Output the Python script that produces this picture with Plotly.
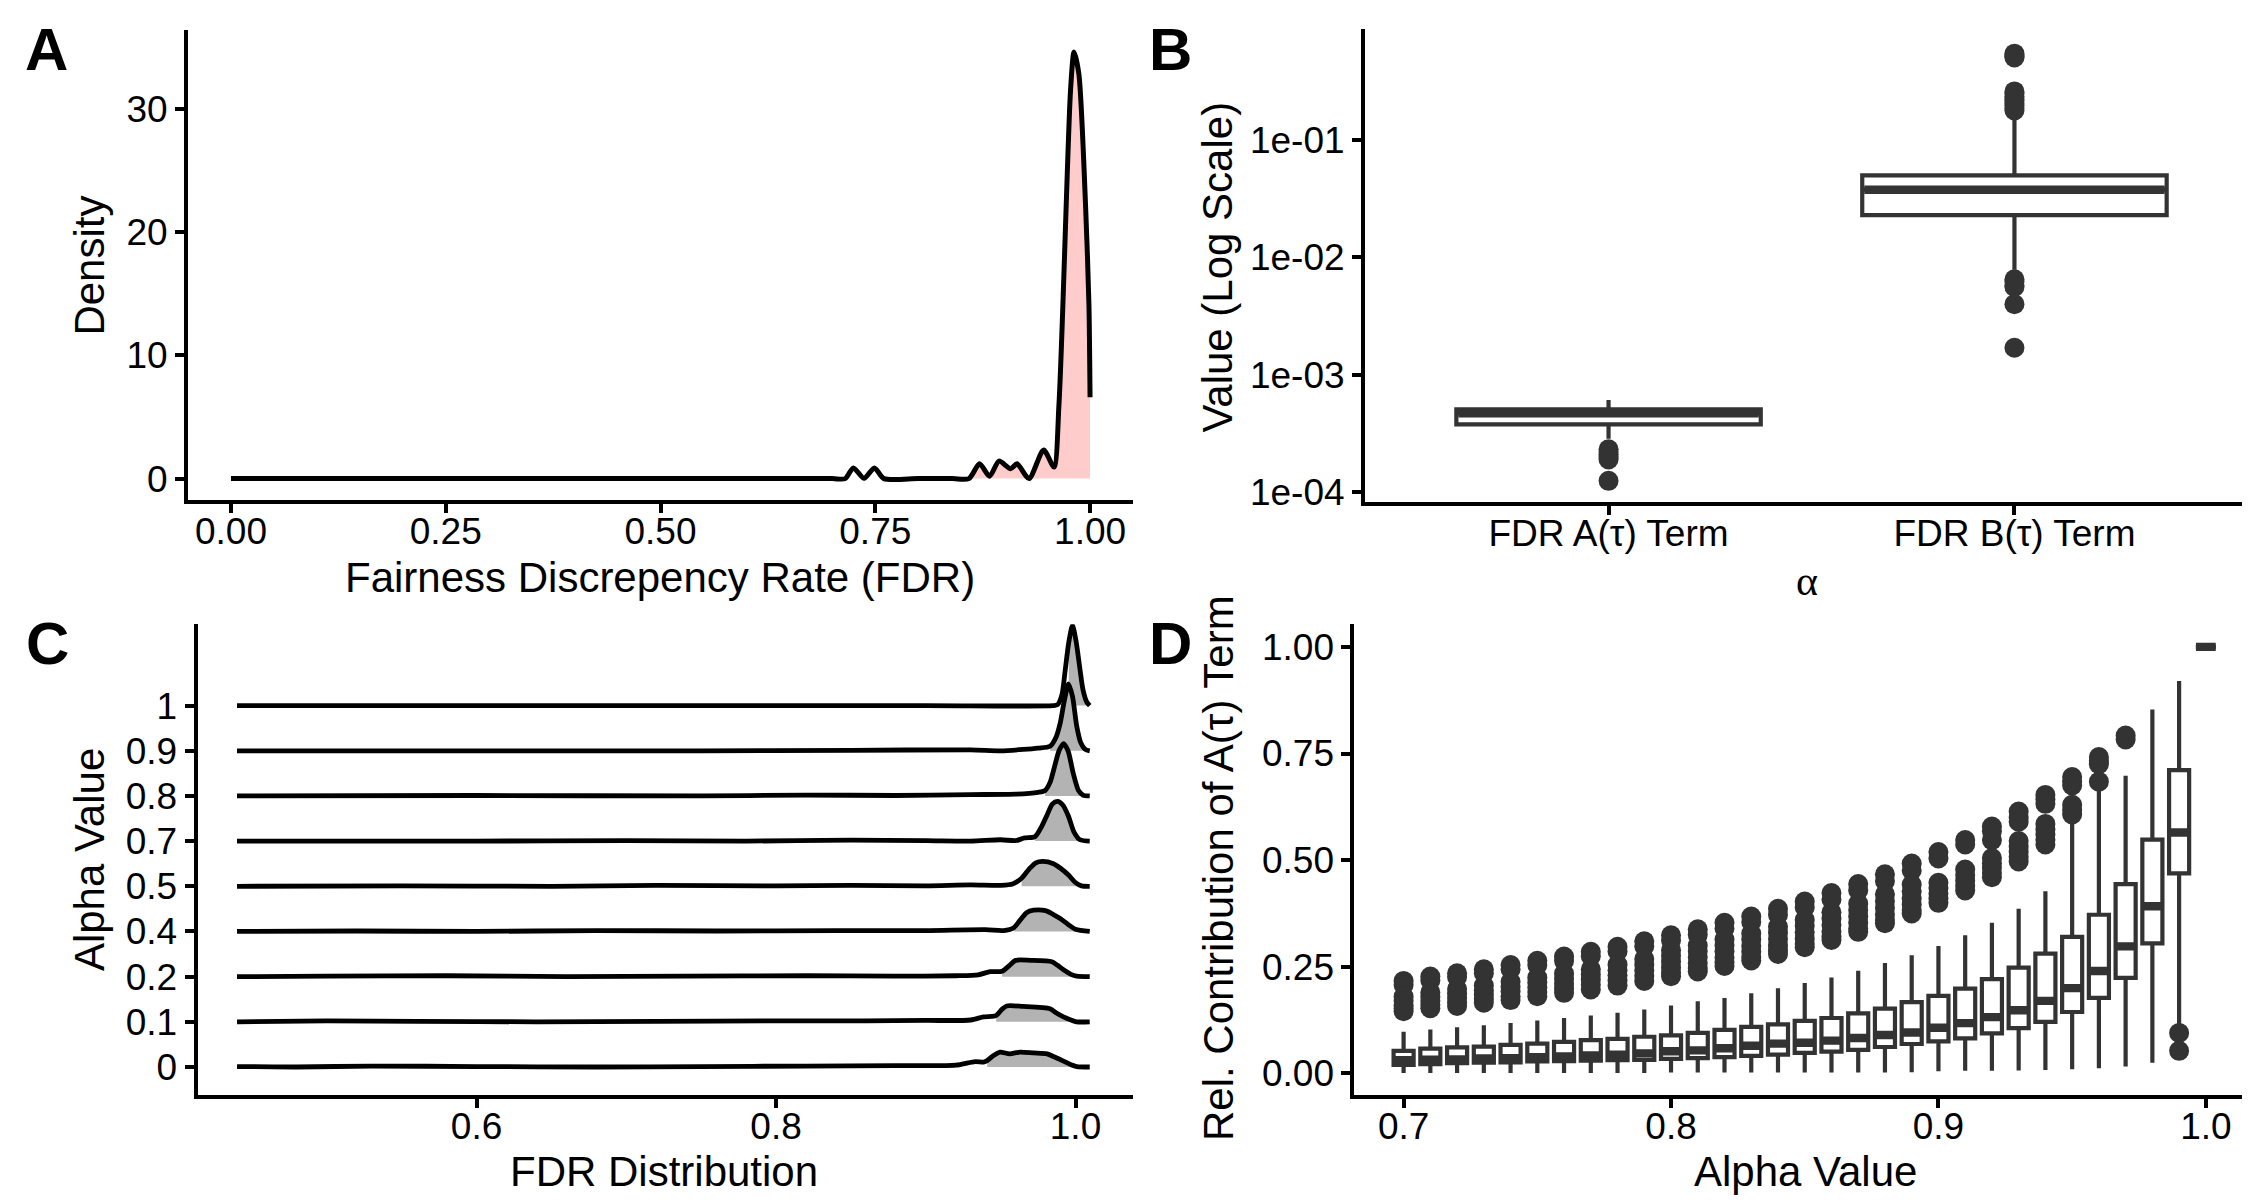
import plotly.graph_objects as go

W, H = 2250, 1200
FONT = 'Liberation Sans'
DARK = '#333333'

# ---------------- panel A : density of the FDR ----------------
fdr_x = [0.0, 0.2, 0.4, 0.6, 0.7, 0.715, 0.7245, 0.737, 0.749, 0.76, 0.8, 0.84, 0.859,
         0.8714, 0.883, 0.894, 0.9075, 0.915, 0.929, 0.946, 0.958, 0.9638, 0.9684,
         0.9735, 0.9773, 0.9813, 0.987, 0.9948, 0.9987, 1.0]
fdr_density = [0.0, 0.0, 0.0, 0.0, 0.0, 0.0, 0.87, 0.02, 0.87, 0.0, 0.0, 0.0, 0.0,
               1.2, 0.19, 1.42, 0.8, 1.2, 0.0, 2.33, 0.94, 6.0, 14.1,
               24.8, 31.5, 34.6, 32.8, 22.1, 14.1, 6.6]
fdr_fill_from = 0.859
a_ticks = [0.0, 0.25, 0.5, 0.75, 1.0]
a_ticktext = ['0.00', '0.25', '0.50', '0.75', '1.00']

# ---------------- panel B : A(tau) / B(tau) terms, log scale ----------------
b_terms = ['FDR A(τ) Term', 'FDR B(τ) Term']
b_low = [2.86e-4, 0.00785]
b_q1 = [3.79e-4, 0.0229]
b_median = [4.71e-4, 0.0378]
b_q3 = [5.07e-4, 0.0501]
b_high = [6.1e-4, 0.16]
b_out_a = [2.32e-4, 2.2e-4, 2.1e-4, 2.0e-4, 1.9e-4, 1.25e-4]
b_out_b = [0.545, 0.53, 0.515, 0.506, 0.26, 0.25, 0.236, 0.225, 0.216, 0.205, 0.196,
           0.187, 0.179, 0.00652, 0.0062, 0.0058, 0.0056, 0.0040, 0.0017]
b_ticks = [1e-4, 1e-3, 1e-2, 1e-1]
b_ticktext = ['1e-04', '1e-03', '1e-02', '1e-01']

# ---------------- panel C : ridgelines per alpha ----------------
c_labels = ['0', '0.1', '0.2', '0.4', '0.5', '0.7', '0.8', '0.9', '1']
c_x_00 = [0.440, 0.48, 0.53, 0.6, 0.68, 0.75, 0.82, 0.88, 0.92, 0.933, 0.9386, 0.941,
          0.945, 0.9496, 0.956, 0.963, 0.972, 0.981, 0.986, 0.992, 0.997, 1.0008, 1.0095]
c_h_00 = [0.01, 0.0, 0.02, 0.01, 0.0, 0.01, 0.02, 0.03, 0.04, 0.12, 0.11, 0.14,
          0.25, 0.33, 0.29, 0.33, 0.31, 0.29, 0.22, 0.13, 0.05, 0.01, 0.0]
c_x_01 = [0.440, 0.5, 0.56, 0.64, 0.72, 0.8, 0.86, 0.9, 0.93, 0.9386, 0.944, 0.947,
          0.951, 0.954, 0.965, 0.983, 0.987, 0.992, 0.997, 1.0008, 1.0095]
c_h_01 = [0.0, 0.02, 0.01, 0.0, 0.01, 0.02, 0.02, 0.03, 0.04, 0.11, 0.12, 0.14,
          0.28, 0.35, 0.34, 0.29, 0.2, 0.11, 0.04, 0.0, 0.0]
c_x_02 = [0.440, 0.5, 0.58, 0.66, 0.74, 0.82, 0.88, 0.92, 0.935, 0.943, 0.951, 0.956,
          0.96, 0.97, 0.9842, 0.988, 0.992, 0.997, 1.0008, 1.0095]
c_h_02 = [0.0, 0.01, 0.02, 0.0, 0.01, 0.02, 0.01, 0.02, 0.04, 0.11, 0.12, 0.25,
          0.36, 0.36, 0.33, 0.25, 0.15, 0.05, 0.01, 0.0]
c_x_04 = [0.440, 0.52, 0.6, 0.68, 0.76, 0.84, 0.9, 0.94, 0.952, 0.959, 0.963, 0.9675,
          0.972, 0.98, 0.985, 0.99, 0.9953, 1.0, 1.0095]
c_h_04 = [0.0, 0.01, 0.0, 0.02, 0.01, 0.02, 0.02, 0.04, 0.02, 0.09, 0.25, 0.42,
          0.47, 0.46, 0.38, 0.28, 0.15, 0.05, 0.0]
c_x_05 = [0.440, 0.55, 0.65, 0.72, 0.8, 0.85, 0.9, 0.93, 0.95, 0.958, 0.964, 0.969,
          0.9735, 0.978, 0.9853, 0.99, 0.9953, 1.0, 1.004, 1.0095]
c_h_05 = [0.0, 0.01, 0.0, 0.02, 0.01, 0.02, 0.01, 0.03, 0.02, 0.05, 0.18, 0.38,
          0.52, 0.55, 0.5, 0.4, 0.25, 0.08, 0.01, 0.0]
c_x_07 = [0.440, 0.6, 0.7, 0.78, 0.85, 0.9, 0.93, 0.95, 0.96, 0.966, 0.973, 0.977,
          0.981, 0.9845, 0.988, 0.9915, 0.9953, 0.999, 1.003, 1.0095]
c_h_07 = [0.0, 0.0, 0.01, 0.0, 0.02, 0.01, 0.0, 0.03, 0.01, 0.07, 0.1, 0.3,
          0.58, 0.82, 0.88, 0.8, 0.55, 0.2, 0.03, 0.0]
c_x_08 = [0.440, 0.6, 0.75, 0.82, 0.88, 0.93, 0.96, 0.975, 0.9797, 0.983, 0.986, 0.989,
          0.992, 0.995, 0.9985, 1.002, 1.005, 1.0095]
c_h_08 = [0.0, 0.01, 0.0, 0.02, 0.01, 0.03, 0.04, 0.08, 0.12, 0.3, 0.65, 1.0,
          1.16, 1.0, 0.5, 0.12, 0.02, 0.0]
c_x_09 = [0.440, 0.6, 0.75, 0.85, 0.93, 0.95, 0.965, 0.975, 0.983, 0.987, 0.9897,
          0.9925, 0.9953, 0.998, 1.0008, 1.0035, 1.0065, 1.0095]
c_h_09 = [0.0, 0.0, 0.0, 0.01, 0.02, 0.0, 0.03, 0.06, 0.1, 0.3, 0.6,
          1.1, 1.48, 1.2, 0.55, 0.18, 0.03, 0.0]
c_x_10 = [0.440, 0.7, 0.9, 0.985, 0.988, 0.991, 0.993, 0.9955, 0.998, 1.0005, 1.003,
          1.005, 1.0075, 1.0095]
c_h_10 = [0.0, 0.0, 0.0, 0.0, 0.02, 0.25, 0.75, 1.4, 1.78, 1.4, 0.8,
          0.35, 0.08, 0.0]
c_fill_from = [0.941, 0.947, 0.951, 0.959, 0.964, 0.973, 0.9797, 0.983, 0.9955]

# ---------------- panel D : relative contribution of A(tau) ----------------
d_alpha = [0.70, 0.71, 0.72, 0.73, 0.74, 0.75, 0.76, 0.77, 0.78, 0.79,
           0.80, 0.81, 0.82, 0.83, 0.84, 0.85, 0.86, 0.87, 0.88, 0.89,
           0.90, 0.91, 0.92, 0.93, 0.94, 0.95, 0.96, 0.97, 0.98, 0.99, 1.00]
d_low = [0.001, 0.001, 0.001, 0.001, 0.001, 0.001, 0.001, 0.001, 0.001, 0.001,
         0.002, 0.002, 0.002, 0.002, 0.002, 0.002, 0.002, 0.002, 0.002, 0.003,
         0.005, 0.006, 0.006, 0.007, 0.008, 0.010, 0.012, 0.016, 0.025, 0.110, 1.0]
d_q1 = [0.020, 0.022, 0.024, 0.025, 0.026, 0.028, 0.029, 0.030, 0.031, 0.032,
        0.034, 0.036, 0.038, 0.041, 0.044, 0.048, 0.051, 0.055, 0.062, 0.069,
        0.075, 0.082, 0.094, 0.106, 0.121, 0.144, 0.177, 0.224, 0.305, 0.469, 1.0]
d_median = [0.031, 0.032, 0.033, 0.035, 0.036, 0.038, 0.040, 0.042, 0.044, 0.047,
            0.052, 0.054, 0.059, 0.065, 0.070, 0.072, 0.077, 0.083, 0.090, 0.096,
            0.107, 0.118, 0.132, 0.148, 0.170, 0.200, 0.240, 0.298, 0.392, 0.565, 1.0]
d_q3 = [0.053, 0.058, 0.061, 0.063, 0.067, 0.070, 0.074, 0.078, 0.081, 0.086,
        0.089, 0.095, 0.102, 0.109, 0.115, 0.123, 0.130, 0.141, 0.152, 0.167,
        0.182, 0.199, 0.221, 0.248, 0.281, 0.320, 0.372, 0.444, 0.548, 0.711, 1.0]
d_high = [0.0975, 0.103, 0.108, 0.113, 0.118, 0.124, 0.130, 0.136, 0.142, 0.150,
          0.159, 0.169, 0.177, 0.188, 0.200, 0.212, 0.225, 0.241, 0.259, 0.277,
          0.299, 0.324, 0.353, 0.386, 0.427, 0.585, 0.663, 0.698, 0.853, 0.920, 1.0]
d_outliers = [
    [0.217, 0.208, 0.180, 0.170, 0.160, 0.152, 0.146],
    [0.227, 0.218, 0.190, 0.180, 0.170, 0.161, 0.153],
    [0.235, 0.226, 0.198, 0.188, 0.177, 0.167, 0.158],
    [0.244, 0.235, 0.206, 0.195, 0.185, 0.175, 0.166],
    [0.254, 0.244, 0.215, 0.203, 0.192, 0.181, 0.172],
    [0.264, 0.254, 0.225, 0.213, 0.202, 0.191, 0.181],
    [0.274, 0.264, 0.234, 0.222, 0.210, 0.199, 0.189],
    [0.285, 0.275, 0.244, 0.232, 0.220, 0.208, 0.197],
    [0.297, 0.286, 0.255, 0.242, 0.230, 0.218, 0.206],
    [0.310, 0.298, 0.268, 0.255, 0.242, 0.229, 0.217],
    [0.324, 0.312, 0.289, 0.276, 0.262, 0.248, 0.236, 0.228],
    [0.338, 0.325, 0.300, 0.287, 0.273, 0.259, 0.247, 0.239],
    [0.353, 0.340, 0.314, 0.300, 0.286, 0.272, 0.260, 0.252],
    [0.368, 0.355, 0.328, 0.314, 0.299, 0.285, 0.273, 0.265],
    [0.386, 0.372, 0.344, 0.330, 0.315, 0.300, 0.288, 0.280],
    [0.403, 0.389, 0.360, 0.346, 0.331, 0.316, 0.304, 0.296],
    [0.423, 0.408, 0.378, 0.363, 0.348, 0.333, 0.321, 0.313],
    [0.444, 0.429, 0.398, 0.383, 0.368, 0.353, 0.340, 0.332],
    [0.467, 0.451, 0.420, 0.404, 0.388, 0.373, 0.360, 0.352],
    [0.492, 0.476, 0.443, 0.427, 0.411, 0.396, 0.383, 0.375],
    [0.519, 0.504, 0.447, 0.435, 0.422, 0.410, 0.400],
    [0.547, 0.537, 0.478, 0.465, 0.452, 0.440, 0.429],
    [0.579, 0.568, 0.547, 0.505, 0.493, 0.482, 0.470, 0.460],
    [0.614, 0.600, 0.590, 0.545, 0.532, 0.520, 0.508, 0.497],
    [0.653, 0.642, 0.632, 0.585, 0.572, 0.560, 0.548, 0.537],
    [0.695, 0.685, 0.675, 0.630, 0.618, 0.607],
    [0.742, 0.733, 0.725, 0.684],
    [0.792, 0.783],
    [],
    [0.095, 0.053],
    [],
]
d_ticks = [0.7, 0.8, 0.9, 1.0]
d_ticktext = ['0.7', '0.8', '0.9', '1.0']
d_yticks = [0.0, 0.25, 0.5, 0.75, 1.0]
d_yticktext = ['0.00', '0.25', '0.50', '0.75', '1.00']

SMOOTH = 0.7
BOX_LW = 4.2


def px(x):
    return x / W


def py(y):
    return 1 - y / H


fig = go.Figure()

# A: pink tail, then the full density line
tail_x = [x for x in fdr_x if x >= fdr_fill_from]
tail_y = [d for x, d in zip(fdr_x, fdr_density) if x >= fdr_fill_from]
fig.add_trace(go.Scatter(x=[tail_x[0], tail_x[-1]], y=[0, 0], mode='lines',
                         line=dict(width=0), xaxis='x', yaxis='y'))
fig.add_trace(go.Scatter(x=tail_x, y=tail_y, mode='lines', fill='tonexty',
                         fillcolor='#FFCCCC', line=dict(width=0, shape='spline', smoothing=SMOOTH),
                         xaxis='x', yaxis='y'))
fig.add_trace(go.Scatter(x=fdr_x, y=fdr_density, mode='lines',
                         line=dict(color='black', width=5, shape='spline', smoothing=SMOOTH),
                         xaxis='x', yaxis='y'))

# B: boxes, thick medians, outliers
fig.add_trace(go.Box(x=b_terms, q1=b_q1, median=b_median, q3=b_q3,
                     lowerfence=b_low, upperfence=b_high, width=0.75,
                     fillcolor='white', line=dict(color=DARK, width=BOX_LW),
                     whiskerwidth=0, boxpoints=False, xaxis='x2', yaxis='y2'))
fig.add_trace(go.Box(x=b_terms, q1=b_median, median=b_median, q3=b_median,
                     lowerfence=b_median, upperfence=b_median, width=0.74,
                     fillcolor='rgba(0,0,0,0)', line=dict(color=DARK, width=2 * BOX_LW),
                     whiskerwidth=0, boxpoints=False, xaxis='x2', yaxis='y2'))
fig.add_trace(go.Scatter(x=[b_terms[0]] * len(b_out_a) + [b_terms[1]] * len(b_out_b),
                         y=b_out_a + b_out_b, mode='markers',
                         marker=dict(color=DARK, size=20, line=dict(width=0)),
                         xaxis='x2', yaxis='y2'))

# C: ridgelines, top row drawn first so lower rows sit in front
ridges = [(c_x_00, c_h_00), (c_x_01, c_h_01), (c_x_02, c_h_02), (c_x_04, c_h_04),
          (c_x_05, c_h_05), (c_x_07, c_h_07), (c_x_08, c_h_08), (c_x_09, c_h_09),
          (c_x_10, c_h_10)]
for i in reversed(range(len(ridges))):
    xs, hs = ridges[i]
    start = c_fill_from[i]
    fx = [x for x in xs if x >= start]
    fy = [i + h for x, h in zip(xs, hs) if x >= start]
    fig.add_trace(go.Scatter(x=[fx[0], fx[-1]], y=[i, i], mode='lines',
                             line=dict(width=0), xaxis='x3', yaxis='y3'))
    fig.add_trace(go.Scatter(x=fx, y=fy, mode='lines', fill='tonexty',
                             fillcolor='#B3B3B3', line=dict(width=0, shape='spline', smoothing=SMOOTH),
                             xaxis='x3', yaxis='y3'))
    fig.add_trace(go.Scatter(x=xs, y=[i + h for h in hs], mode='lines',
                             line=dict(color='black', width=4.8, shape='spline', smoothing=SMOOTH),
                             xaxis='x3', yaxis='y3'))

# D: boxes per alpha
fig.add_trace(go.Box(x=d_alpha, q1=d_q1, median=d_median, q3=d_q3,
                     lowerfence=d_low, upperfence=d_high, width=0.0075,
                     fillcolor='white', line=dict(color=DARK, width=BOX_LW),
                     whiskerwidth=0, boxpoints=False, xaxis='x4', yaxis='y4'))
fig.add_trace(go.Box(x=d_alpha, q1=d_median, median=d_median, q3=d_median,
                     lowerfence=d_median, upperfence=d_median, width=0.0074,
                     fillcolor='rgba(0,0,0,0)', line=dict(color=DARK, width=2 * BOX_LW),
                     whiskerwidth=0, boxpoints=False, xaxis='x4', yaxis='y4'))
out_x, out_y = [], []
for a, outs in zip(d_alpha, d_outliers):
    out_x += [a] * len(outs)
    out_y += outs
fig.add_trace(go.Scatter(x=out_x, y=out_y, mode='markers',
                         marker=dict(color=DARK, size=20, line=dict(width=0)),
                         xaxis='x4', yaxis='y4'))

axis = dict(showline=True, linecolor='black', linewidth=4, ticks='outside', ticklen=9,
            tickwidth=4, tickcolor='black', showgrid=False, zeroline=False,
            tickfont=dict(family=FONT, size=37, color='black'))
xaxis = dict(axis, ticklabelstandoff=-14)

fig.update_layout(
    width=W, height=H, margin=dict(l=0, r=0, t=0, b=0),
    paper_bgcolor='white', plot_bgcolor='white', showlegend=False,
    boxmode='overlay',
    xaxis=dict(xaxis, domain=[px(180), px(1125)], range=[-0.05, 1.05],
               tickvals=a_ticks, ticktext=a_ticktext, anchor='y'),
    yaxis=dict(axis, domain=[py(497), py(22)], range=[-1.77, 36.4],
               tickvals=[0, 10, 20, 30], anchor='x'),
    xaxis2=dict(xaxis, domain=[px(1357), px(2250)], range=[-0.6, 1.6],
                type='category', anchor='y2'),
    yaxis2=dict(axis, domain=[py(499), py(21)], type='log', range=[-4.087, -0.052],
                tickvals=b_ticks, ticktext=b_ticktext, anchor='x2'),
    xaxis3=dict(xaxis, domain=[px(189.5), px(1125)], range=[0.4136, 1.0384],
                tickvals=[0.6, 0.8, 1.0], ticktext=['0.6', '0.8', '1.0'], anchor='y3'),
    yaxis3=dict(axis, domain=[py(1097.5), py(622)], range=[-0.63, 9.8],
                tickvals=list(range(len(c_labels))), ticktext=c_labels, anchor='x3'),
    xaxis4=dict(xaxis, domain=[px(1346.4), px(2250)], range=[0.6816, 1.0195],
                tickvals=d_ticks, ticktext=d_ticktext, anchor='y4'),
    yaxis4=dict(axis, domain=[py(1097.5), py(622)], range=[-0.0516, 1.053],
                tickvals=d_yticks, ticktext=d_yticktext, anchor='x4'),
)

title_font = dict(family=FONT, size=42, color='black')
letter_font = dict(family=FONT, size=60, color='black')
notes = [
    ('<b>A</b>', 38, 42, 0, 'middle', letter_font),
    ('<b>B</b>', 1162, 42, 0, 'middle', letter_font),
    ('<b>C</b>', 39, 641, 0, 'middle', letter_font),
    ('<b>D</b>', 1162, 641, 0, 'middle', letter_font),
    ('Fairness Discrepency Rate (FDR)', 652, 600, 0, 'bottom', title_font),
    ('Density', 82, 260, -90, 'middle', title_font),
    ('Value (Log Scale)', 1210, 262, -90, 'middle', title_font),
    ('FDR Distribution', 656, 1200, 0, 'bottom', title_font),
    ('Alpha Value', 81, 860, -90, 'middle', title_font),
    ('Alpha Value', 1797, 1200, 0, 'bottom', title_font),
    ('Rel. Contribution of A(τ) Term', 1210, 868, -90, 'middle', title_font),
]
for text, x, y, ang, va, f in notes:
    fig.add_annotation(text=text, x=px(x), y=py(y), xref='paper', yref='paper',
                       xanchor='center', yanchor=va, textangle=ang,
                       showarrow=False, font=f)
fig.add_annotation(text='α', x=px(1799), y=py(578), xref='paper', yref='paper',
                   xanchor='center', yanchor='middle', showarrow=False,
                   font=dict(family='Liberation Serif', size=42, color='black'))

fig.write_html("out.html")
